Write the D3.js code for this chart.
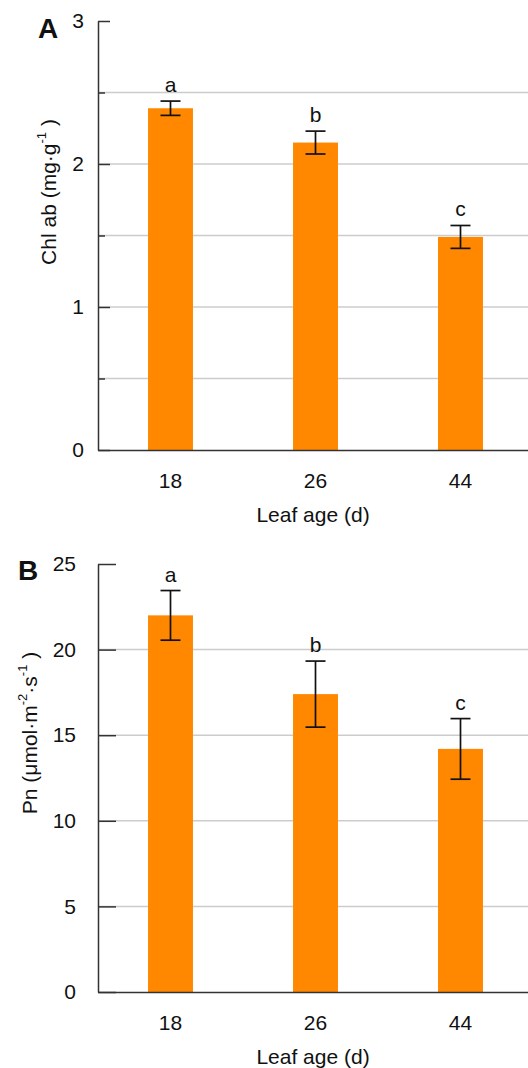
<!DOCTYPE html>
<html>
<head>
<meta charset="utf-8">
<script src="https://cdn.jsdelivr.net/npm/d3@7"></script>
<style>
  body { margin: 0; background: #fff; }
  svg { display: block; font-family: "Liberation Sans", Arial, sans-serif; }
</style>
</head>
<body>
<div id="main"></div>
<script>
const width = 528, height = 1068;

// data
const leafAge = ["18", "26", "44"];
const chlMean = [2.39, 2.15, 1.49];
const chlErr = [0.05, 0.08, 0.08];
const chlLetters = ["a", "b", "c"];
const chlMajor = [0, 1, 2, 3];
const chlMinor = [0.5, 1.5, 2.5];

const pnMean = [22.0, 17.4, 14.2];
const pnErr = [1.45, 1.93, 1.77];
const pnLetters = ["a", "b", "c"];
const pnMajor = [0, 5, 10, 15, 20, 25];

let svg = d3.select("#main").append("svg")
    .attr("width", width)
    .attr("height", height);

const orange = "#ff8800";
const axisColor = "#333";
const gridColor = "#cccccc";
const font = "Liberation Sans, Arial, sans-serif";

function drawPanel(p) {
    const g = svg.append("g");

    const x = d3.scaleBand().domain(leafAge).range([p.left, p.right]).padding(0);
    const y = d3.scaleLinear().domain([0, p.max]).range([p.bottom, p.top]);
    const barW = x.bandwidth() * 0.31;

    // gridlines, not at 0 or at the top
    const gridVals = p.major.concat(p.minor).filter(v => v > 0 && v < p.max);
    g.append("g").selectAll("line")
        .data(gridVals)
        .join("line")
        .attr("x1", p.left).attr("x2", p.right)
        .attr("y1", d => y(d)).attr("y2", d => y(d))
        .attr("stroke", gridColor)
        .attr("stroke-width", 1.5);

    const rows = leafAge.map((k, i) => ({k: k, m: p.mean[i], e: p.err[i], l: p.letters[i]}));

    // bars
    g.append("g").selectAll("rect")
        .data(rows)
        .join("rect")
        .attr("x", d => x(d.k) + x.bandwidth() / 2 - barW / 2)
        .attr("y", d => y(d.m))
        .attr("width", barW)
        .attr("height", d => y(0) - y(d.m))
        .attr("fill", orange);

    // error bars
    const eb = g.append("g")
        .attr("stroke", "#111")
        .attr("stroke-width", 1.7)
        .selectAll("g")
        .data(rows)
        .join("g")
        .attr("transform", d => `translate(${x(d.k) + x.bandwidth() / 2},0)`);
    eb.append("line")
        .attr("y1", d => y(d.m - d.e)).attr("y2", d => y(d.m + d.e));
    eb.append("line")
        .attr("x1", -10).attr("x2", 10)
        .attr("y1", d => y(d.m + d.e)).attr("y2", d => y(d.m + d.e));
    eb.append("line")
        .attr("x1", -10).attr("x2", 10)
        .attr("y1", d => y(d.m - d.e)).attr("y2", d => y(d.m - d.e));

    // significance letters
    g.append("g").selectAll("text")
        .data(rows)
        .join("text")
        .attr("x", d => x(d.k) + x.bandwidth() / 2)
        .attr("y", d => y(d.m + d.e) - 9)
        .attr("text-anchor", "middle")
        .attr("font-size", 21)
        .attr("fill", "#111")
        .text(d => d.l);

    // minor ticks
    if (p.minor.length) {
        const minorAxis = g.append("g")
            .attr("transform", `translate(${p.left},0)`)
            .call(d3.axisLeft(y).tickValues(p.minor).tickSizeInner(-7).tickSizeOuter(0).tickFormat(""));
        minorAxis.select(".domain").remove();
        minorAxis.selectAll("line").attr("stroke", axisColor).attr("stroke-width", 1.5);
    }

    // y axis
    const yAxis = g.append("g")
        .attr("transform", `translate(${p.left},0)`)
        .call(d3.axisLeft(y).tickValues(p.major).tickSizeInner(-p.tickLen).tickSizeOuter(0)
            .tickPadding(p.labelPad).tickFormat(d3.format("d")));
    yAxis.attr("font-size", 21).attr("font-family", font);
    yAxis.select(".domain").attr("stroke", axisColor).attr("stroke-width", 1.5);
    yAxis.selectAll(".tick line").attr("stroke", axisColor).attr("stroke-width", 1.5);
    yAxis.selectAll(".tick text").attr("fill", "#111");

    // x axis
    const xAxis = g.append("g")
        .attr("transform", `translate(0,${p.bottom})`)
        .call(d3.axisBottom(x).tickSize(0).tickPadding(23));
    xAxis.attr("font-size", 21).attr("font-family", font);
    xAxis.select(".domain").attr("stroke", axisColor).attr("stroke-width", 1.5);
    xAxis.selectAll(".tick text").attr("fill", "#111");

    g.append("text")
        .attr("x", 313)
        .attr("y", p.bottom + 72)
        .attr("text-anchor", "middle")
        .attr("font-size", 21)
        .attr("fill", "#111")
        .text("Leaf age (d)");

    // y title with superscripts
    const t = g.append("text")
        .attr("transform", `translate(${p.titleX},${p.titleY}) rotate(-90)`)
        .attr("text-anchor", "middle")
        .attr("font-size", 21)
        .attr("fill", "#111");
    p.title.forEach(part => {
        const s = t.append("tspan").text(part.t);
        if (part.sup) s.attr("font-size", 13).attr("dy", -10);
        if (part.down) s.attr("dy", 10);
    });

    // panel letter
    g.append("text")
        .attr("x", p.letterX)
        .attr("y", p.letterY)
        .attr("font-size", 28)
        .attr("font-weight", "bold")
        .attr("fill", "#111")
        .text(p.letter);
}

drawPanel({
    left: 98, right: 533, top: 21, bottom: 450, max: 3,
    mean: chlMean, err: chlErr, letters: chlLetters,
    major: chlMajor, minor: chlMinor, tickLen: 12, labelPad: 14,
    title: [{t: "Chl ab (mg·g"}, {t: "-1", sup: true}, {t: " )", down: true}],
    titleX: 56, titleY: 192,
    letter: "A", letterX: 38, letterY: 38
});

drawPanel({
    left: 98, right: 533, top: 564, bottom: 992, max: 25,
    mean: pnMean, err: pnErr, letters: pnLetters,
    major: pnMajor, minor: [], tickLen: 18, labelPad: 22,
    title: [{t: "Pn (μmol·m"}, {t: "-2", sup: true}, {t: "·s", down: true}, {t: "-1", sup: true}, {t: " )", down: true}],
    titleX: 37, titleY: 733,
    letter: "B", letterX: 18, letterY: 580
});
</script>
</body>
</html>
